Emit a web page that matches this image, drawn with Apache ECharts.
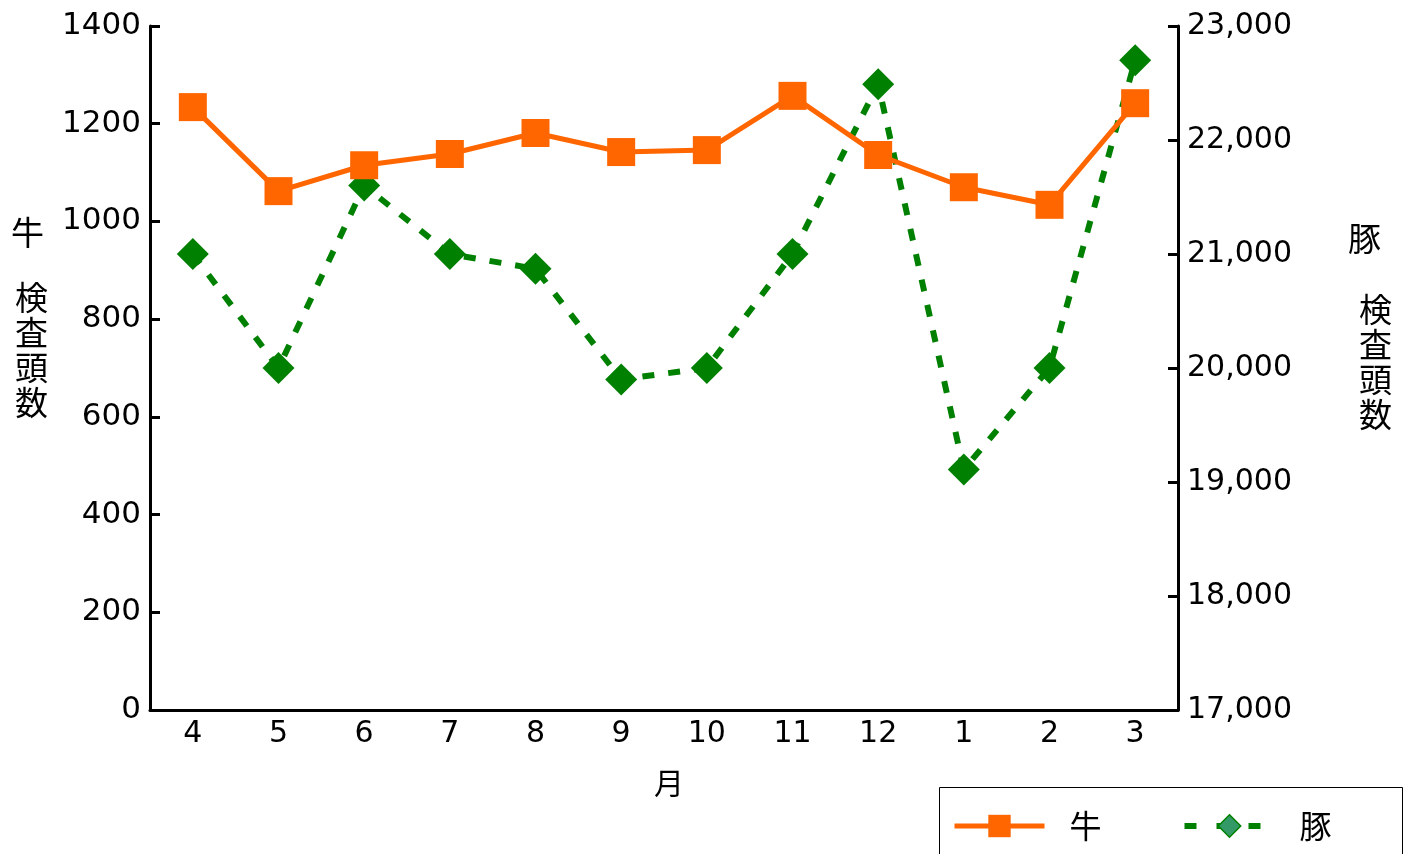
<!DOCTYPE html>
<html>
<head>
<meta charset="utf-8">
<script src="https://cdn.jsdelivr.net/npm/echarts@6/dist/echarts.min.js"></script>
<style>html,body{margin:0;padding:0;background:#fff;}#c{width:1411px;height:854px;}</style>
</head>
<body>
<div id="c"></div>
<script>
const months = ['4','5','6','7','8','9','10','11','12','1','2','3'];
const cattle = [1234, 1062, 1115, 1138, 1181, 1142, 1146, 1257, 1136, 1070, 1034, 1242];
const pigs = [21000, 20000, 21600, 21000, 20870, 19900, 20000, 21000, 22490, 19110, 20000, 22700];
const leftTicks = [0, 1400, 200];
const rightTicks = [17000, 23000, 1000];

const FONT = '"Noto Sans CJK JP", "Noto Sans", sans-serif';
const NUMFONT = '"DejaVu Sans", sans-serif';
const chart = echarts.init(document.getElementById('c'));
chart.setOption({
  animation: false,
  backgroundColor: '#fff',
  textStyle: { fontFamily: FONT, color: '#000' },
  grid: { left: 150, right: 233, top: 26, bottom: 144, containLabel: false },
  legend: {
    left: 952, top: 810,
    padding: 0,
    itemGap: 80,
    itemWidth: 90, itemHeight: 28,
    textStyle: { fontSize: 32, fontFamily: FONT, color: '#000', padding: [0, 0, 0, 20] },
    data: [
      { name: '牛', lineStyle: { width: 5, color: '#FF6600' } },
      { name: '豚', lineStyle: { width: 6, color: '#008000', type: [12, 20] },
        itemStyle: { color: '#339966', borderColor: '#008000', borderWidth: 1.5 } }
    ]
  },
  xAxis: {
    type: 'category', data: months, boundaryGap: true,
    axisLine: { lineStyle: { color: '#000', width: 3 } },
    axisTick: { inside: true, length: 10, lineStyle: { color: '#000', width: 3 } },
    axisLabel: { fontSize: 30, color: '#000', margin: 9, fontFamily: NUMFONT },
    splitLine: { show: false }
  },
  yAxis: [
    {
      type: 'value', position: 'left', min: leftTicks[0], max: leftTicks[1], interval: leftTicks[2],
      axisLine: { show: true, lineStyle: { color: '#000', width: 3 } },
      axisTick: { show: true, inside: true, length: 10, lineStyle: { color: '#000', width: 3 } },
      axisLabel: { fontSize: 31, color: '#000', margin: 9, fontFamily: NUMFONT, formatter: v => String(v) },
      splitLine: { show: false }
    },
    {
      type: 'value', position: 'right', min: rightTicks[0], max: rightTicks[1], interval: rightTicks[2],
      axisLine: { show: true, lineStyle: { color: '#000', width: 3 } },
      axisTick: { show: true, inside: true, length: 10, lineStyle: { color: '#000', width: 3 } },
      axisLabel: { fontSize: 30, color: '#000', margin: 9, fontFamily: NUMFONT,
        formatter: v => v.toLocaleString('en-US') },
      splitLine: { show: false }
    }
  ],
  graphic: [
    { type: 'rect', shape: { x: 939.5, y: 787.5, width: 463, height: 90 },
      style: { fill: 'none', stroke: '#000', lineWidth: 1 } },
    { type: 'text', left: 11, top: 216, style: { text: '牛', font: '33px ' + FONT, fill: '#000' } },
    { type: 'text', left: 15, top: 280, style: { text: '検\n査\n頭\n数', font: '33px ' + FONT, fill: '#000', lineHeight: 35 } },
    { type: 'text', left: 1348, top: 222, style: { text: '豚', font: '33px ' + FONT, fill: '#000' } },
    { type: 'text', left: 1359, top: 292, style: { text: '検\n査\n頭\n数', font: '33px ' + FONT, fill: '#000', lineHeight: 35 } },
    { type: 'text', left: 654, top: 768, style: { text: '月', font: '30px ' + FONT, fill: '#000' } }
  ],
  series: [
    {
      name: '牛', type: 'line', yAxisIndex: 0, data: cattle,
      symbol: 'rect', symbolSize: 28,
      lineStyle: { color: '#FF6600', width: 5 },
      itemStyle: { color: '#FF6600' }, z: 3
    },
    {
      name: '豚', type: 'line', yAxisIndex: 1, data: pigs,
      symbol: 'diamond', symbolSize: 32,
      lineStyle: { color: '#008000', width: 6, type: [12, 14] },
      itemStyle: { color: '#008000' }, z: 2
    }
  ]
});
</script>
</body>
</html>
